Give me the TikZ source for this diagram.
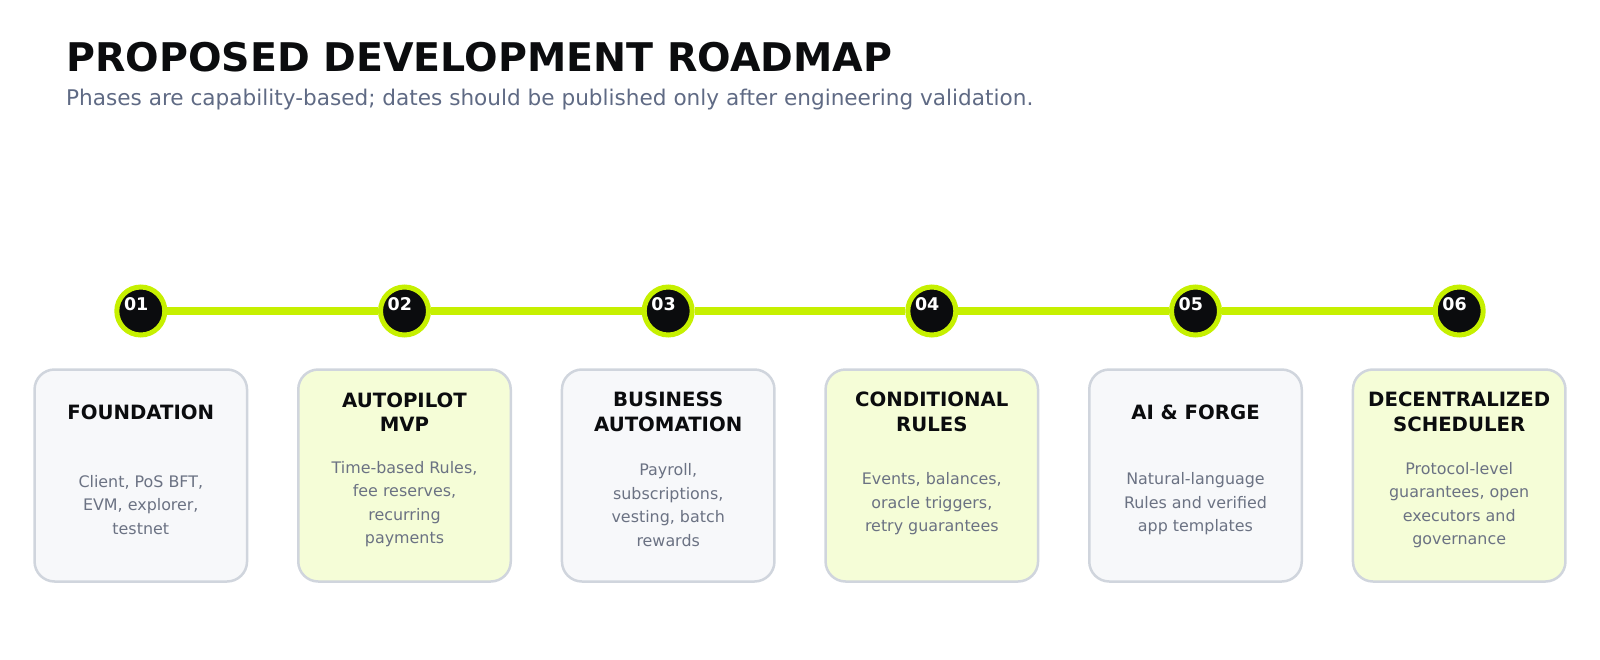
\documentclass[tikz,border=0pt]{standalone}
\usepackage{fontspec}
\setmainfont{DejaVu Sans}
\definecolor{lime}{HTML}{C6F000}
\definecolor{nero}{HTML}{0B0C0E}
\definecolor{grigio}{HTML}{F7F8FA}
\definecolor{limechiaro}{HTML}{F5FDD7}
\definecolor{bordo}{HTML}{D0D5DD}
\definecolor{ardesia}{HTML}{5F6A84}
\definecolor{corpo}{HTML}{6B7283}
\begin{document}
\begin{tikzpicture}[x=1pt, y=-1pt,
	fase/.style={circle, fill=nero, draw=lime, line width=5pt, minimum size=48pt, inner sep=0pt},
	numero/.style={text=white, font=\fontsize{17.5}{17.5}\selectfont\bfseries, inner sep=0pt},
	linea/.style={draw=lime, line width=8.5pt},
	scheda/.style={draw=bordo, line width=2.5pt, rounded corners=20pt, minimum width=212.5pt, minimum height=212pt, inner sep=0pt},
	intestazione/.style={text=nero, align=center, inner sep=0pt, font=\fontsize{19.7}{24.5}\selectfont\bfseries},
	testo/.style={text=corpo, align=center, inner sep=0pt, font=\fontsize{15.9}{23.5}\selectfont}]
		\useasboundingbox (0,0) rectangle (1600,659);
		
		% titolo
		\node[anchor=base west, inner sep=0pt, text=nero, font=\fontsize{39.5}{39.5}\selectfont\bfseries] (titolo) at (66,71.4) {PROPOSED DEVELOPMENT ROADMAP};
		\node[anchor=base west, inner sep=0pt, text=ardesia, font=\fontsize{21.6}{21.6}\selectfont] (sottotitolo) at (66,105) {Phases are capability-based; dates should be published only after engineering validation.};
		
		% fasi
		\node[fase] (c1) at (140.8,311) {};
		\node[fase] (c2) at (404.5,311) {};
		\node[fase] (c3) at (668.2,311) {};
		\node[fase] (c4) at (931.8,311) {};
		\node[fase] (c5) at (1195.5,311) {};
		\node[fase] (c6) at (1459.2,311) {};
		
		\draw[linea] (c1) -- (c2);
		\draw[linea] (c2) -- (c3);
		\draw[linea] (c3) -- (c4);
		\draw[linea] (c4) -- (c5);
		\draw[linea] (c5) -- (c6);
		
		\node[numero] (n1) at (136.2,304) {01};
		\node[numero] (n2) at (399.9,304) {02};
		\node[numero] (n3) at (663.6,304) {03};
		\node[numero] (n4) at (927.2,304) {04};
		\node[numero] (n5) at (1190.9,304) {05};
		\node[numero] (n6) at (1454.6,304) {06};
		
		% schede
		\node[scheda, fill=grigio] (s1) at (140.8,475.5) {};
		\node[scheda, fill=limechiaro] (s2) at (404.5,475.5) {};
		\node[scheda, fill=grigio] (s3) at (668.2,475.5) {};
		\node[scheda, fill=limechiaro] (s4) at (931.8,475.5) {};
		\node[scheda, fill=grigio] (s5) at (1195.5,475.5) {};
		\node[scheda, fill=limechiaro] (s6) at (1459.2,475.5) {};
		
		\node[intestazione] (t1) at (140.8,412) {FOUNDATION};
		\node[intestazione] (t2) at (404.5,412) {AUTOPILOT\\MVP};
		\node[intestazione] (t3) at (668.2,412) {BUSINESS\\AUTOMATION};
		\node[intestazione] (t4) at (931.8,412) {CONDITIONAL\\RULES};
		\node[intestazione] (t5) at (1195.5,412) {AI \& FORGE};
		\node[intestazione] (t6) at (1459.2,412) {DECENTRALIZED\\SCHEDULER};
		
		\node[testo] (d1) at (140.8,505) {Client, PoS BFT,\\EVM, explorer,\\testnet};
		\node[testo] (d2) at (404.5,504) {Time-based Rules,\\fee reserves,\\recurring\\payments};
		\node[testo] (d3) at (668.2,505) {Payroll,\\subscriptions,\\vesting, batch\\rewards};
		\node[testo] (d4) at (931.8,504) {Events, balances,\\oracle triggers,\\retry guarantees};
		\node[testo] (d5) at (1195.5,504) {Natural-language\\Rules and verified\\app templates};
		\node[testo] (d6) at (1459.2,505) {Protocol-level\\guarantees, open\\executors and\\governance};
	\end{tikzpicture}
\end{document}
